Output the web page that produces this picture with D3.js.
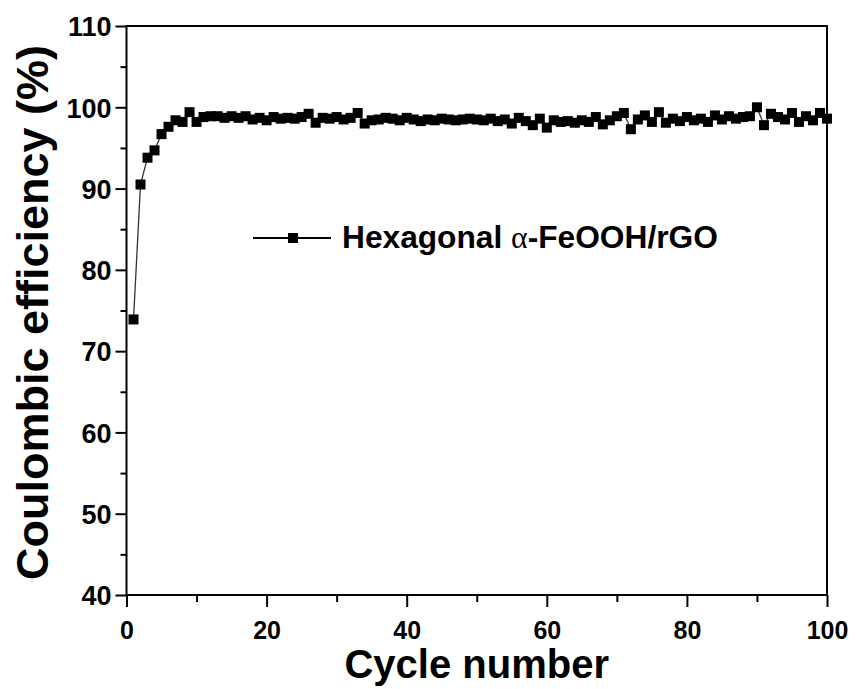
<!DOCTYPE html>
<html>
<head>
<meta charset="utf-8">
<script src="https://cdn.jsdelivr.net/npm/d3@7"></script>
<style>
  body { margin: 0; background: #fff; }
  svg { display: block; font-family: "Liberation Sans", Arial, sans-serif; font-weight: bold; }
</style>
</head>
<body>
<div id="chart"></div>
<script>
/* Coulombic efficiency vs cycle number */

const seriesName = "Hexagonal α-FeOOH/rGO";

// efficiency (%) for cycles 1..100
const efficiency = [
  73.9, 90.5, 93.8, 94.7, 96.7, 97.6, 98.4, 98.2, 99.4, 98.2,
  98.8, 98.9, 98.9, 98.7, 98.9, 98.7, 98.9, 98.5, 98.7, 98.4,
  98.8, 98.6, 98.7, 98.6, 98.8, 99.2, 98.1, 98.7, 98.6, 98.8,
  98.5, 98.7, 99.3, 98.0, 98.4, 98.5, 98.7, 98.6, 98.4, 98.7,
  98.5, 98.3, 98.5, 98.4, 98.6, 98.5, 98.4, 98.5, 98.6, 98.5,
  98.4, 98.6, 98.3, 98.5, 98.0, 98.7, 98.3, 97.8, 98.6, 97.5,
  98.4, 98.2, 98.3, 98.1, 98.4, 98.2, 98.8, 97.9, 98.4, 98.9,
  99.3, 97.3, 98.5, 99.0, 98.2, 99.4, 98.1, 98.6, 98.3, 98.8,
  98.4, 98.6, 98.2, 99.0, 98.5, 98.9, 98.6, 98.8, 98.9, 100.0,
  97.8, 99.2, 98.8, 98.5, 99.3, 98.2, 98.9, 98.4, 99.3, 98.6
];
const cycles = efficiency.map((v, i) => i + 1);

const xTicks = [0, 20, 40, 60, 80, 100],
      xMinor = [10, 30, 50, 70, 90],
      yTicks = [40, 50, 60, 70, 80, 90, 100, 110],
      yMinor = [45, 55, 65, 75, 85, 95, 105];

const width = 857,
      height = 689,
      margin = ({ top: 26, right: 30, bottom: 94, left: 126.5 });

let svg = d3.select("#chart")
    .append("svg")
    .attr("width", width)
    .attr("height", height);

let x = d3.scaleLinear()
    .domain([0, 100])
    .range([margin.left, width - margin.right]);

let y = d3.scaleLinear()
    .domain([40, 110])
    .range([height - margin.bottom, margin.top]);

// bottom axis, majors with labels then minors
let xAxis = svg.append("g")
    .attr("transform", `translate(0,${y(40)})`)
    .call(d3.axisBottom(x).tickValues(xTicks).tickSize(12).tickPadding(14));
svg.append("g")
    .attr("transform", `translate(0,${y(40)})`)
    .call(d3.axisBottom(x).tickValues(xMinor).tickSize(7).tickFormat(""));

let yAxis = svg.append("g")
    .attr("transform", `translate(${x(0)},0)`)
    .call(d3.axisLeft(y).tickValues(yTicks).tickSize(11).tickPadding(4));
svg.append("g")
    .attr("transform", `translate(${x(0)},0)`)
    .call(d3.axisLeft(y).tickValues(yMinor).tickSize(6).tickFormat(""));

svg.selectAll(".domain").remove();
svg.selectAll(".tick line").attr("stroke", "#000").attr("stroke-width", 2);
svg.selectAll(".tick text")
    .attr("fill", "#000")
    .style("font-size", "25px")
    .style("font-family", "'Liberation Sans', Arial, sans-serif")
    .style("font-weight", "bold");
yAxis.selectAll(".tick text").attr("dy", "0.36em").style("font-size", "27px");

// frame
svg.append("rect")
    .attr("x", x(0))
    .attr("y", y(110))
    .attr("width", x(100) - x(0))
    .attr("height", y(40) - y(110))
    .attr("fill", "none")
    .attr("stroke", "#000")
    .attr("stroke-width", 2);

// line + square markers
let line = d3.line()
    .x((d, i) => x(cycles[i]))
    .y(d => y(d));

svg.append("path")
    .datum(efficiency)
    .attr("d", line)
    .attr("fill", "none")
    .attr("stroke", "#333")
    .attr("stroke-width", 1.3);

const ms = 10;
svg.append("g")
    .selectAll("rect")
    .data(efficiency)
    .join("rect")
    .attr("x", (d, i) => x(cycles[i]) - ms / 2)
    .attr("y", d => y(d) - ms / 2)
    .attr("width", ms)
    .attr("height", ms)
    .attr("fill", "#000");

// legend
let legend = svg.append("g").attr("transform", "translate(253,238)");
legend.append("line")
    .attr("x1", 0).attr("x2", 78)
    .attr("stroke", "#000").attr("stroke-width", 2);
legend.append("rect")
    .attr("x", 40 - ms / 2).attr("y", -ms / 2)
    .attr("width", ms).attr("height", ms)
    .attr("fill", "#000");
let lt = legend.append("text")
    .attr("x", 89)
    .attr("y", 10)
    .style("font-size", "31.7px");
lt.append("tspan").text("Hexagonal ");
lt.append("tspan")
    .style("font-family", "'Liberation Serif', 'Times New Roman', serif")
    .style("font-weight", "normal")
    .text("α");
lt.append("tspan").text("-FeOOH/rGO");

// axis titles
svg.append("text")
    .attr("x", (x(0) + x(100)) / 2)
    .attr("y", 678)
    .attr("text-anchor", "middle")
    .style("font-size", "40px")
    .text("Cycle number");

svg.append("text")
    .attr("transform", `translate(48,${(y(40) + y(110)) / 2 + 2}) rotate(-90)`)
    .attr("text-anchor", "middle")
    .style("font-size", "45px")
    .text("Coulombic efficiency (%)");
</script>
</body>
</html>
